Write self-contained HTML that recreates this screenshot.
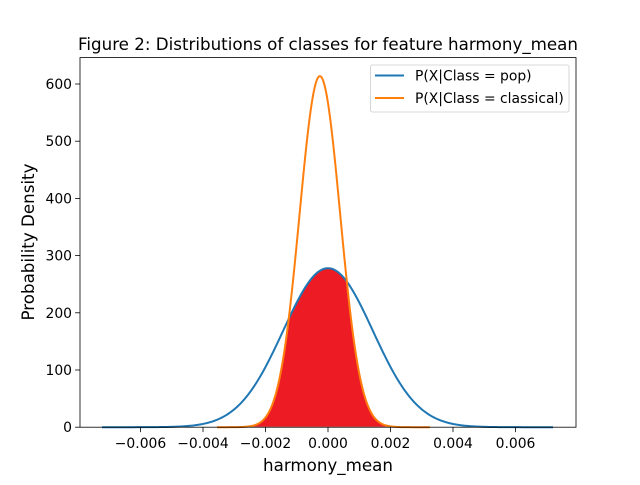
<!DOCTYPE html>
<html><head><meta charset="utf-8"><style>
body{margin:0;background:#fff;}
svg text{font-family:"DejaVu Sans","Liberation Sans",sans-serif;fill:#000;}
</style></head><body>
<svg id="chart" width="640" height="480">
<rect width="640" height="480" fill="#fff"/>
<g id="plot"></g>
</svg>
<script>
const seriesNames = ["P(X|Class = pop)", "P(X|Class = classical)"];
const seriesMeans = [0.0, -0.00026];
const seriesStds = [0.001435, 0.00065];
const seriesRangeMin = [-0.00723, -0.00355];
const seriesRangeMax = [0.0072, 0.00326];
const xTicks = [-0.006, -0.004, -0.002, 0, 0.002, 0.004, 0.006];
const xTickLabels = ["−0.006","−0.004","−0.002","0.000","0.002","0.004","0.006"];
const yTicks = [0, 100, 200, 300, 400, 500, 600];

const L=80,R=576,T=57.6,B=427.2;
const xs = v => 328 + v*31250;
const ys = v => B - v*(B-84)/600;
const NS="http://www.w3.org/2000/svg";
const g=document.getElementById('plot');
function mk(t,a,p){const e=document.createElementNS(NS,t);for(const k in a)e.setAttribute(k,a[k]);(p||g).appendChild(e);return e;}
function pdf(i,x){const s=seriesStds[i];return Math.exp(-0.5*((x-seriesMeans[i])/s)**2)/(s*Math.sqrt(2*Math.PI));}
function pts(i,f){const a=[];const n=400;const lo=seriesRangeMin[i],hi=seriesRangeMax[i];for(let k=0;k<=n;k++){const x=lo+(hi-lo)*k/n;a.push([x,f(x)]);}return a;}
const fp=pts(1,x=>Math.min(pdf(0,x),pdf(1,x)));
let d="M"+xs(fp[0][0])+","+ys(0);fp.forEach(p=>d+="L"+xs(p[0]).toFixed(2)+","+ys(p[1]).toFixed(2));d+="L"+xs(fp[fp.length-1][0])+","+ys(0)+"Z";
const fill=mk('path',{d:d,fill:'#ed1c24',stroke:'#fff','stroke-width':0.8});


const colors=['#1f77b4','#ff7f0e'];
[0,1].forEach(i=>{const p=pts(i,x=>pdf(i,x));const line=mk('polyline',{points:p.map(q=>xs(q[0]).toFixed(2)+","+ys(q[1]).toFixed(2)).join(" "),fill:'none',stroke:colors[i],'stroke-width':2});

});
const frame=mk('rect',{x:L,y:T,width:R-L,height:B-T,fill:'none',stroke:'#000','stroke-width':0.8});


xTicks.forEach((v,i)=>{mk('line',{x1:xs(v),x2:xs(v),y1:B,y2:B+4.9,stroke:'#000','stroke-width':0.8});
const t=mk('text',{x:xs(v),y:B+21,'text-anchor':'middle','font-size':13.9});t.textContent=xTickLabels[i];

});
yTicks.forEach(v=>{mk('line',{x1:L-4.9,x2:L,y1:ys(v),y2:ys(v),stroke:'#000','stroke-width':0.8});
const t=mk('text',{x:L-8,y:ys(v)+5,'text-anchor':'end','font-size':13.9});t.textContent=v;

});
const xt=mk('text',{x:328,y:471,'text-anchor':'middle','font-size':16.7});xt.textContent="harmony_mean";


const yt=mk('text',{x:0,y:0,'text-anchor':'middle','font-size':16.7,transform:'translate(34,242) rotate(-90)'});yt.textContent="Probability Density";


const tt=mk('text',{x:328,y:50,'text-anchor':'middle','font-size':16.7});tt.textContent="Figure 2: Distributions of classes for feature harmony_mean";


const lg=mk('rect',{x:370.5,y:65,width:198.5,height:47,rx:2,fill:'#fff',stroke:'#ccc','stroke-width':0.8});


seriesNames.forEach((n,i)=>{const y=75.5+i*22.5;mk('line',{x1:375,x2:404,y1:y,y2:y,stroke:colors[i],'stroke-width':2});
const t=mk('text',{x:415,y:y+5,'font-size':13.9});t.textContent=n;

});
</script>
</body></html>
